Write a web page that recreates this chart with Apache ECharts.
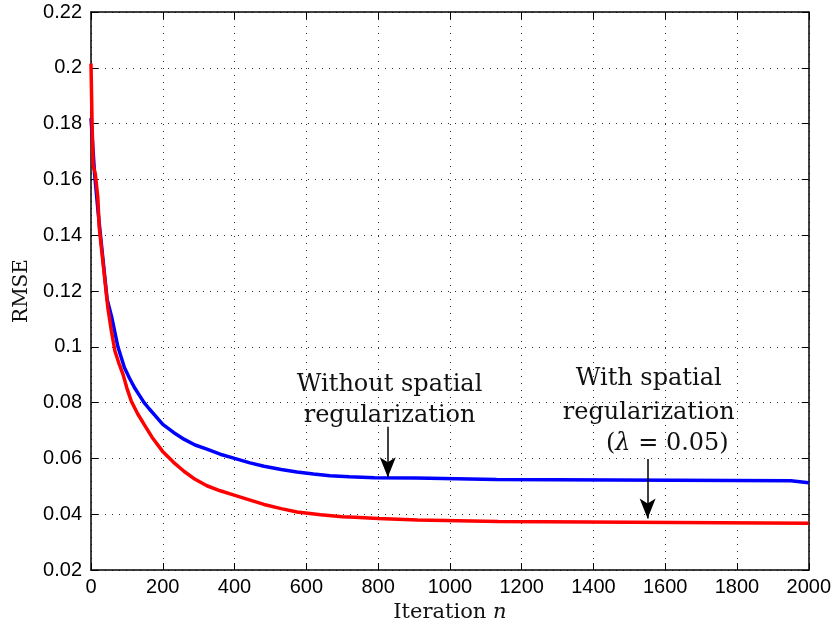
<!DOCTYPE html>
<html>
<head>
<meta charset="utf-8">
<script src="https://cdn.jsdelivr.net/npm/echarts@6/dist/echarts.min.js"></script>
<style>
  html, body { margin: 0; padding: 0; background: #fff; }
  #chart { width: 834px; height: 628px; }
</style>
</head>
<body>
<div id="chart"></div>
<script>
// iteration / RMSE
var iterBlue = [0, 5, 10, 20, 30, 45, 58, 75, 93, 107, 121, 135, 148, 162, 177, 200, 230, 260, 290, 323, 360, 400, 443, 482, 530, 574, 620, 666, 720, 790, 905, 905, 1130, 1130, 1950, 1950, 2000];
var rmseBlue = [0.182, 0.172, 0.162, 0.148, 0.1355, 0.117, 0.1105, 0.100, 0.0926, 0.0888, 0.0854, 0.0826, 0.080, 0.0778, 0.0756, 0.0722, 0.0693, 0.0668, 0.0648, 0.0633, 0.0615, 0.060, 0.0584, 0.0572, 0.0560, 0.0551, 0.0544, 0.0538, 0.0534, 0.0531, 0.0530, 0.0524, 0.0524, 0.0520, 0.0520, 0.0513, 0.0513];

var iterRed = [0, 3, 6, 12, 19, 23, 35, 47, 57, 67, 78, 89, 100, 112, 130, 148, 170, 199, 230, 259, 290, 323, 360, 390, 430, 482, 530, 574, 640, 700, 735, 735, 800, 800, 910, 910, 1135, 1135, 2000];
var rmseRed = [0.2015, 0.18, 0.165, 0.162, 0.1535, 0.1427, 0.1283, 0.1139, 0.1055, 0.0983, 0.0940, 0.0902, 0.0852, 0.0806, 0.0760, 0.0722, 0.0676, 0.0626, 0.0586, 0.0554, 0.0525, 0.0502, 0.0484, 0.0472, 0.0456, 0.0435, 0.0420, 0.0408, 0.0398, 0.0391, 0.0389, 0.0387, 0.0385, 0.0381, 0.0379, 0.0375, 0.0374, 0.0368, 0.0368];

var xTicks = { min: 0, max: 2000, step: 200 };
var yTicks = { min: 0.02, max: 0.22, step: 0.02 };

function pairs(xs, ys) {
    var out = [];
    for (var i = 0; i < xs.length; i++) {
        out.push([xs[i], ys[i]]);
    }
    return out;
}

var serif = 'DejaVu Serif';
var sans = 'Liberation Sans';
var gridLine = { show: true, lineStyle: { color: '#333', type: [1, 6], width: 1 } };
var boxLine = { show: true, onZero: false, lineStyle: { color: '#000', width: 1.5 } };
var inTick = { show: true, inside: true, length: 7, lineStyle: { color: '#000', width: 1 } };

function note(coord, text, lh) {
    return {
        coord: coord, symbol: 'circle', symbolSize: 0,
        label: {
            show: true, position: 'inside', formatter: text,
            fontFamily: serif, fontSize: 24, color: '#111', lineHeight: lh,
            rich: { i: { fontFamily: serif, fontStyle: 'italic', fontSize: 24, color: '#111' } }
        }
    };
}

function arrow(x, y0, y1) {
    return [
        { coord: [x, y0], symbol: 'none' },
        { coord: [x, y1], symbol: 'arrow', symbolSize: [12, 20] }
    ];
}

var myChart = echarts.init(document.getElementById('chart'));
var option = {
    animation: false,
    backgroundColor: '#fff',
    grid: { left: 91, right: 24, top: 12, bottom: 58 },
    xAxis: [{
        type: 'value', min: xTicks.min, max: xTicks.max, interval: xTicks.step,
        name: 'Iteration {i|n}', nameLocation: 'middle', nameGap: 26,
        nameTextStyle: {
            fontFamily: serif, fontSize: 21, color: '#111',
            rich: { i: { fontFamily: serif, fontStyle: 'italic', fontSize: 21, color: '#111' } }
        },
        axisLine: boxLine, axisTick: inTick, splitLine: gridLine,
        axisLabel: {
            fontFamily: sans, fontSize: 20, color: '#000', margin: 7,
            formatter: function(v) { return String(v); }
        }
    }, {
        type: 'value', position: 'top', min: xTicks.min, max: xTicks.max, interval: xTicks.step,
        axisLine: boxLine, axisTick: inTick, splitLine: { show: false }, axisLabel: { show: false }
    }],
    yAxis: [{
        type: 'value', min: yTicks.min, max: yTicks.max, interval: yTicks.step,
        name: 'RMSE', nameLocation: 'middle', nameGap: 56, nameRotate: 90,
        nameTextStyle: { fontFamily: serif, fontSize: 20, color: '#111' },
        axisLine: boxLine, axisTick: inTick, splitLine: gridLine,
        axisLabel: {
            fontFamily: sans, fontSize: 20, color: '#000', margin: 9,
            formatter: function(v) { return String(parseFloat(v.toFixed(2))); }
        }
    }, {
        type: 'value', position: 'right', min: yTicks.min, max: yTicks.max, interval: yTicks.step,
        axisLine: boxLine, axisTick: inTick, splitLine: { show: false }, axisLabel: { show: false }
    }],
    series: [{
        name: 'Without spatial regularization',
        type: 'line', showSymbol: false, symbol: 'none',
        data: pairs(iterBlue, rmseBlue),
        lineStyle: { color: '#0000ff', width: 3.5 },
        z: 3,
        markPoint: {
            silent: true,
            data: [note([832, 0.0810], 'Without spatial\nregularization', 31)]
        },
        markLine: {
            silent: true, symbol: ['none', 'arrow'],
            lineStyle: { color: '#000', width: 1.5, type: 'solid' },
            label: { show: false },
            data: [arrow(827, 0.0713, 0.0532)]
        }
    }, {
        name: 'With spatial regularization',
        type: 'line', showSymbol: false, symbol: 'none',
        data: pairs(iterRed, rmseRed),
        lineStyle: { color: '#ff0000', width: 3.5 },
        z: 4,
        markPoint: {
            silent: true,
            data: [
                note([1554, 0.0824], 'With spatial\nregularization', 34),
                note([1606, 0.0652], '({i|λ} = 0.05)', 30)
            ]
        },
        markLine: {
            silent: true, symbol: ['none', 'arrow'],
            lineStyle: { color: '#000', width: 1.5, type: 'solid' },
            label: { show: false },
            data: [arrow(1551, 0.0598, 0.0385)]
        }
    }]
};
myChart.setOption(option);
</script>
</body>
</html>
